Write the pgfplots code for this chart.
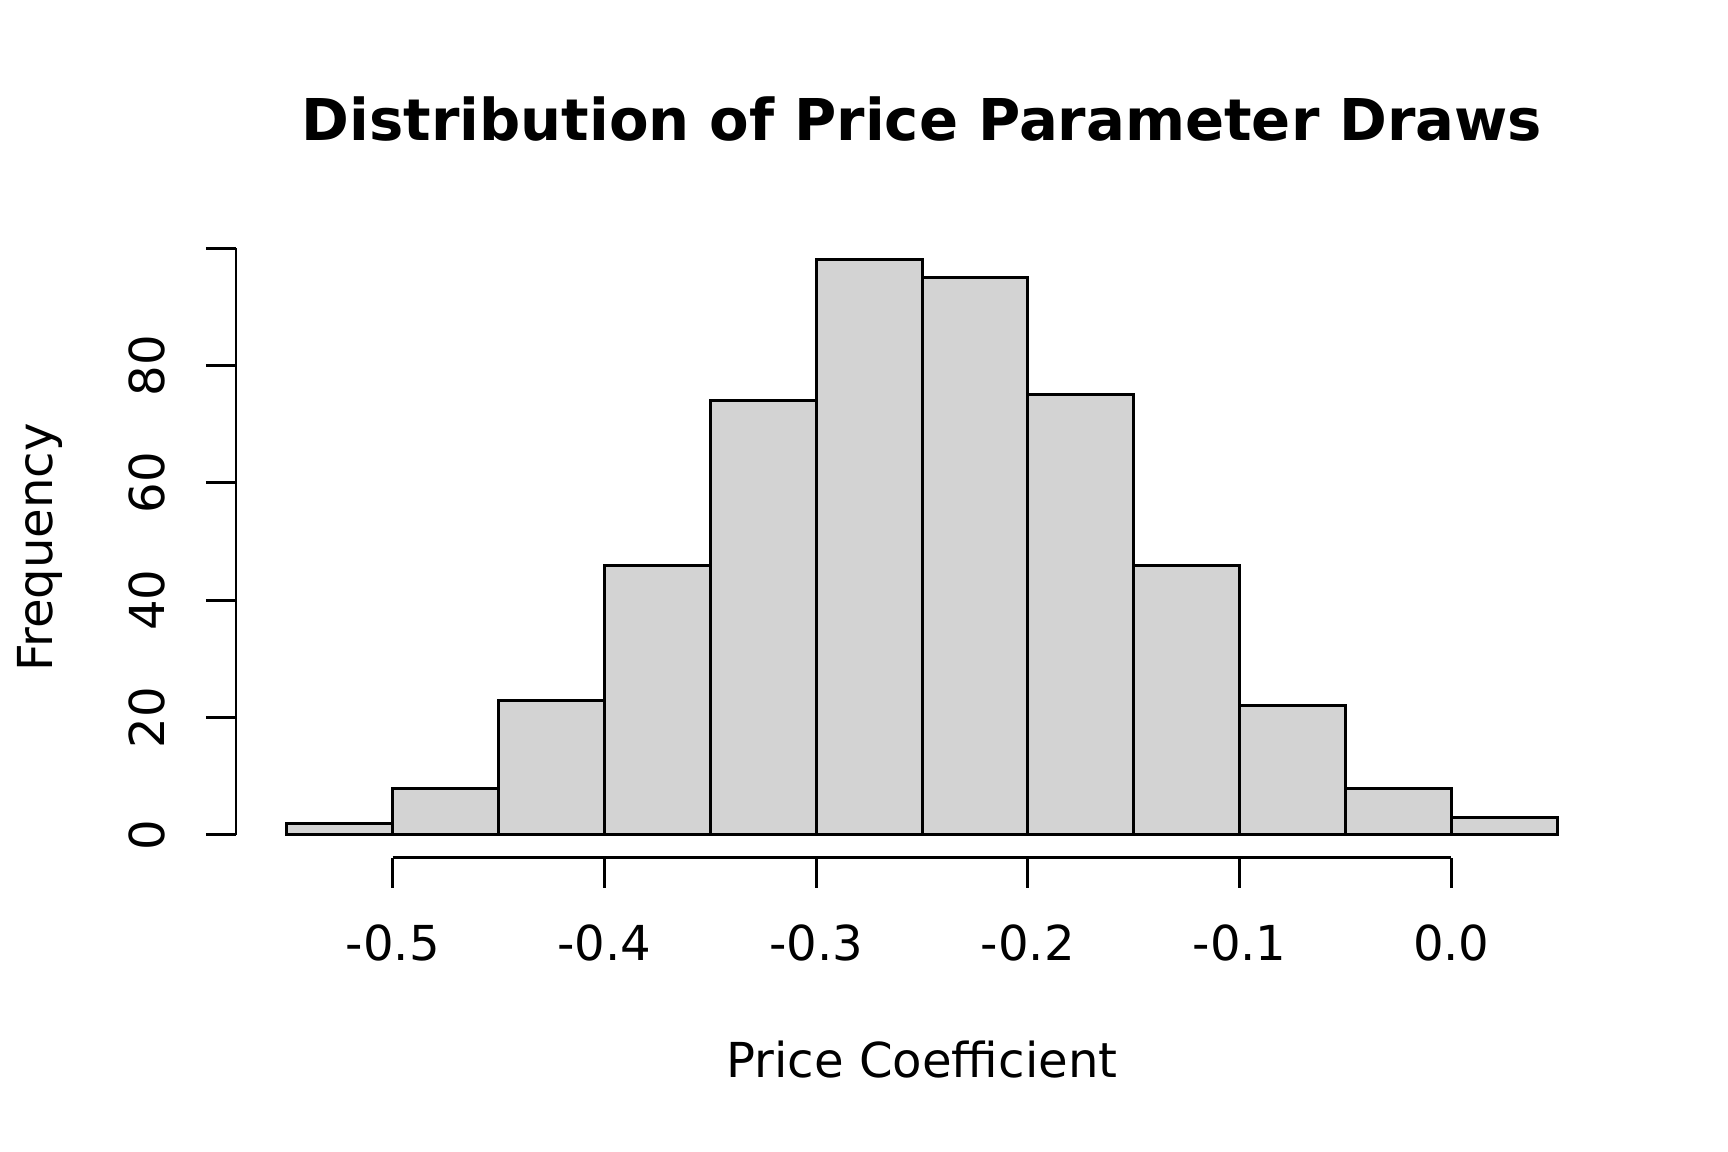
\documentclass[border=0pt]{standalone}
\usepackage{fontspec}
\setmainfont{DejaVu Sans}
\usepackage{pgfplots}
\pgfplotsset{compat=1.18}
\definecolor{histgray}{HTML}{D3D3D3}

\begin{document}
\begin{tikzpicture}
  \begin{axis}[
    scale only axis,
    width=13.72cm, height=6.21cm,
    xmin=-0.574, xmax=0.074,
    ymin=-3.92, ymax=101.92,
    axis line style={draw=none},
    tick align=outside,
    tick pos=left,
    major tick length=0.3cm,
    tick style={black, line width=0.85pt},
    xtick={-0.5,-0.4,-0.3,-0.2,-0.1,0},
    xticklabels={-0.5,-0.4,-0.3,-0.2,-0.1,0.0},
    ytick={0,20,40,60,80,100},
    yticklabels={0,20,40,60,80,},
    font=\fontsize{13.7}{16}\selectfont,
    xticklabel style={anchor=base, yshift=-0.73cm},
    yticklabel style={xshift=-0.41cm, rotate=90, anchor=base},
    title={Distribution of Price Parameter Draws},
    title style={at={(axis description cs:0.5,1.121)}, anchor=base,
                 font=\bfseries\fontsize{16.4}{19}\selectfont},
    xlabel={Price Coefficient},
    xlabel style={at={(axis description cs:0.5,-0.3527)}, anchor=base},
    ylabel={Frequency},
    ylabel style={at={(axis description cs:-0.1341,0.5)}, anchor=base, rotate=0},
    clip=false,
  ]
    % histogram counts, bins of width 0.05 from -0.55 to 0.05
    \addplot[ybar interval, fill=histgray, draw=black, line width=0.85pt]
      coordinates {(-0.55,2) (-0.50,8) (-0.45,23) (-0.40,46) (-0.35,74)
        (-0.30,98) (-0.25,95) (-0.20,75) (-0.15,46) (-0.10,22)
        (-0.05,8) (0.00,3) (0.05,3)};
    % R-style axis lines spanning the tick range only
    \draw[line width=0.85pt] (axis cs:-0.5,-3.92) -- (axis cs:0,-3.92);
    \draw[line width=0.85pt] (axis cs:-0.574,0) -- (axis cs:-0.574,100);
  \end{axis}
  \pgfresetboundingbox
  \path[use as bounding box] (current axis.south west) ++(-2.36cm,-2.94cm) rectangle ++(17.28cm,11.52cm);
\end{tikzpicture}
\end{document}
